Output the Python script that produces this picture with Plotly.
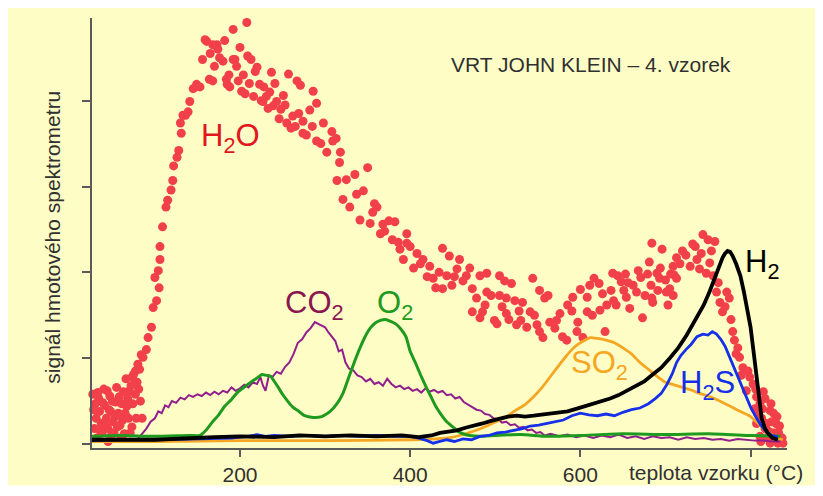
import plotly.graph_objects as go

# ---------------- data (temperature in °C, signal in arbitrary units) ----------------
h2o_temp = [27, 30, 31, 29, 32, 34, 35, 37, 38, 40, 41, 43, 45, 45, 47, 48, 51, 52, 54, 55, 57, 59, 60, 61, 63, 65, 66, 68, 69, 71, 72, 74, 75, 77, 78, 79, 80, 81, 82, 84,
            73, 77, 86, 90, 92, 96, 98, 100, 102, 105, 104, 106, 106, 109, 113, 115, 119, 121, 122, 126, 128, 130, 131, 133, 136, 139, 141, 145, 148, 149, 153, 156, 159, 161,
            168, 173, 174, 168, 164, 180, 184, 185, 188, 192, 192, 194, 198, 200, 202, 206, 208, 209, 213, 218, 220, 223, 228, 227, 231, 233, 237, 239, 243, 246, 251, 257,
            255, 262, 260, 267, 269, 271, 274, 274, 282, 286, 290, 290, 298, 308, 309, 313, 317, 314, 325, 335, 350, 337, 321, 329, 341, 353, 356, 361, 368, 370, 379, 382,
            388, 396, 396, 408, 415, 423, 427, 430, 438, 438, 443, 446, 449, 455, 458, 466, 473, 473, 482, 482, 485, 490, 490, 495, 499, 502, 505, 505, 511, 513, 513, 523,
            519, 525, 530, 532, 537, 541, 544, 549, 552, 552, 558, 556, 562, 564, 570, 572, 576, 579, 584, 585, 591, 596, 597, 603, 608, 608, 611, 616, 622, 623, 629, 631,
            636, 639, 638, 644, 648, 651, 653, 654, 658, 662, 666, 671, 676, 673, 679, 683, 684, 684, 685, 690, 691, 693, 696, 701, 700, 703, 705, 709, 710, 709, 713, 717,
            713, 720, 729, 732, 737, 740, 744, 748, 750, 752, 756, 758, 760, 764, 767, 772, 775, 779, 781, 785, 787, 791, 795, 799, 803, 805, 807, 807, 811, 811, 819, 823,
            826, 831, 834, 834, 808, 813, 817, 820, 823, 825, 828, 832, 814, 817, 824, 827, 830, 833, 837, 821, 812, 838, 806, 815,
            28, 33, 36, 39, 42, 44, 46, 49, 50, 53, 56, 58, 62, 64, 67, 70, 73, 76, 83, 85,
            165, 170, 176, 182, 187, 196, 204, 211, 216, 225, 235, 241, 248, 253, 265, 278, 285, 295, 302, 318,
            345, 358, 365, 375, 386, 392, 400, 404, 412, 420, 434, 452, 462, 470, 478, 488, 508, 516, 528, 546,
            590, 600, 614, 626, 642, 656, 668, 681, 694, 706, 724, 735, 742, 754, 762, 770, 777, 783, 789, 797]
h2o_signal = [0.58, 0.47, 0.30, 0.18, 0.07, 0.53, 0.38, 0.24, 0.13, 0.64, 0.45, 0.30, 0.18, 0.03, 0.56, 0.38, 0.26, 0.13, 0.49, 0.66, 0.36, 0.22, 0.07, 0.47, 0.61, 0.36, 0.76, 0.53, 0.30, 0.13, 0.68, 0.47, 0.81, 0.58, 0.30, 0.72, 0.93, 0.64, 0.87, 1.04,
              0.78, 0.85, 1.01, 1.10, 1.24, 1.36, 1.59, 1.94, 1.67, 1.82, 2.02, 2.15, 2.30, 2.53, 2.76, 2.84, 2.96, 3.07, 3.24, 3.34, 3.42, 3.74, 3.62, 3.83, 3.83, 3.87, 3.99, 4.14, 4.16, 4.19, 4.16, 4.48, 4.71, 4.69,
              4.65, 4.65, 4.60, 4.23, 4.25, 4.46, 4.25, 4.19, 4.16, 4.83, 4.48, 4.48, 4.23, 4.62, 4.11, 4.08, 4.91, 4.52, 4.48, 4.34, 4.39, 4.19, 4.16, 3.99, 4.05, 3.91, 4.33, 3.94, 3.99, 3.79, 4.06, 4.31,
              3.74, 3.82, 3.68, 4.23, 3.85, 4.18, 3.76, 3.62, 3.89, 4.11, 3.97, 3.53, 3.74, 3.64, 3.53, 3.56, 3.28, 3.07, 3.08, 3.14, 3.22, 2.91, 2.85, 2.76, 2.61, 2.57, 2.70, 2.76, 2.56, 2.48, 2.38, 2.59,
              2.27, 2.45, 2.34, 2.22, 2.15, 2.07, 1.93, 1.82, 2.28, 1.81, 1.96, 2.19, 1.85, 2.04, 2.15, 1.96, 1.81, 1.54, 1.96, 1.47, 1.54, 1.99, 1.77, 1.73, 1.44, 1.40, 1.96, 1.73, 1.90, 1.70, 1.52, 1.67,
              1.87, 1.39, 1.44, 1.65, 1.36, 1.54, 1.93, 1.39, 1.79, 1.31, 1.70, 1.24, 1.73, 1.42, 1.35, 1.44, 1.52, 1.25, 1.21, 1.62, 1.71, 1.31, 1.42, 1.24, 1.71, 1.54, 1.85, 1.93, 1.87, 1.56, 1.31, 1.62,
              1.79, 1.67, 1.99, 1.96, 1.89, 1.79, 1.98, 1.71, 1.58, 1.85, 1.77, 1.94, 1.73, 1.47, 1.98, 1.85, 1.70, 2.34, 1.65, 1.99, 1.79, 1.93, 2.27, 1.77, 1.91, 1.62, 1.81, 2.07, 1.97, 1.73, 2.17, 2.10,
              1.93, 2.25, 2.07, 2.33, 2.15, 2.04, 2.44, 1.99, 2.38, 2.11, 1.96, 2.36, 1.77, 1.65, 1.54, 1.77, 1.70, 1.31, 1.21, 1.12, 1.01, 0.89, 0.62, 0.78, 0.70, 0.41, 0.55, 0.24, 0.47, 0.09, 0.24, 0.39,
              0.13, 0.32, 0.21, 0.05, 0.36, 0.30, 0.18, 0.07, 0.01, 0.26, 0.13, 0.01, 0.41, 0.53, 0.47, 0.36, 0.24, 0.13, 0.07, 0.15, 0.03, 0.01, 0.64, 0.61,
              0.40, 0.60, 0.15, 0.48, 0.22, 0.62, 0.40, 0.10, 0.50, 0.32, 0.20, 0.55, 0.28, 0.12, 0.44, 0.62, 0.20, 0.70, 0.50, 0.30,
              4.55, 4.40, 4.50, 4.70, 4.30, 4.40, 4.30, 4.20, 4.05, 4.00, 4.10, 4.20, 3.90, 3.95, 3.70, 3.60, 3.70, 3.50, 3.40, 3.40,
              2.95, 2.80, 2.45, 2.60, 2.35, 2.15, 2.30, 2.05, 2.10, 1.95, 2.00, 1.95, 1.90, 2.05, 1.70, 1.62, 1.60, 1.45, 1.55, 1.50,
              1.55, 1.80, 1.50, 1.75, 1.62, 1.88, 2.02, 2.12, 2.05, 1.98, 2.20, 2.30, 2.22, 2.25, 1.88, 1.60, 1.45, 1.05, 0.80, 0.85]

co2_temp = [26, 40, 55, 70, 80, 85, 90, 95, 100, 104, 108, 112, 116, 120, 125, 130, 135, 140, 145, 150, 155, 160, 165, 170, 175, 180, 185, 190, 195, 200,
            205, 210, 215, 220, 224, 227, 230, 234, 238, 243, 248, 253, 258, 263, 268, 273, 278, 283, 288, 292, 296, 300, 304, 308, 312, 316, 320, 324, 328, 333,
            338, 343, 348, 353, 358, 363, 368, 373, 378, 383, 388, 393, 398, 403, 408, 413, 418, 423, 428, 433, 438, 443, 448, 453, 458, 463, 468, 473, 478, 483,
            488, 493, 498, 503, 508, 513, 518, 523, 528, 533, 538, 543, 548, 553, 558, 565, 575, 585, 595, 605, 615, 625, 635, 645, 655, 665, 675, 685, 695, 705,
            715, 725, 735, 745, 755, 765, 775, 785, 795, 805, 815, 825, 835]
co2_signal = [0.05, 0.05, 0.05, 0.05, 0.06, 0.12, 0.18, 0.26, 0.30, 0.38, 0.36, 0.45, 0.43, 0.50, 0.48, 0.54, 0.52, 0.57, 0.55, 0.58, 0.56, 0.60, 0.57, 0.61, 0.58, 0.62, 0.60, 0.66, 0.62, 0.65,
              0.69, 0.66, 0.72, 0.70, 0.78, 0.68, 0.62, 0.80, 0.78, 0.84, 0.82, 0.90, 0.95, 1.05, 1.18, 1.22, 1.30, 1.35, 1.42, 1.40, 1.38, 1.36, 1.30, 1.25, 1.20, 1.08, 1.10, 0.95, 0.88, 0.86,
              0.80, 0.78, 0.73, 0.76, 0.70, 0.72, 0.68, 0.76, 0.70, 0.66, 0.68, 0.64, 0.66, 0.62, 0.64, 0.60, 0.65, 0.61, 0.63, 0.60, 0.62, 0.57, 0.58, 0.53, 0.55, 0.49, 0.46, 0.44, 0.40, 0.39,
              0.35, 0.34, 0.30, 0.29, 0.25, 0.26, 0.22, 0.23, 0.19, 0.20, 0.16, 0.17, 0.13, 0.14, 0.10, 0.12, 0.09, 0.11, 0.08, 0.10, 0.07, 0.10, 0.08, 0.11, 0.07, 0.09, 0.06, 0.09, 0.07, 0.08,
              0.05, 0.08, 0.06, 0.07, 0.05, 0.06, 0.04, 0.06, 0.05, 0.04, 0.04, 0.03, 0.03]

o2_temp = [26, 60, 100, 140, 153, 160, 167, 175, 182, 190, 198, 206, 214, 220, 226, 231, 236, 241, 245, 250, 256, 262, 268, 276, 286, 296, 306, 314, 321, 329,
           335, 341, 347, 353, 359, 365, 371, 377, 383, 389, 395, 400, 406, 412, 418, 424, 430, 436, 443, 450, 456, 462, 470, 482, 500, 530, 560, 600, 650, 700,
           750, 800, 835]
o2_signal = [0.09, 0.10, 0.09, 0.10, 0.10, 0.16, 0.25, 0.34, 0.44, 0.52, 0.61, 0.67, 0.73, 0.77, 0.81, 0.80, 0.79, 0.72, 0.66, 0.58, 0.50, 0.43, 0.39, 0.33, 0.31, 0.32, 0.38, 0.47, 0.59, 0.81,
             0.97, 1.12, 1.25, 1.35, 1.41, 1.44, 1.45, 1.43, 1.40, 1.34, 1.25, 1.08, 0.95, 0.81, 0.68, 0.56, 0.44, 0.35, 0.26, 0.20, 0.15, 0.12, 0.10, 0.09, 0.10, 0.11, 0.09, 0.10, 0.12, 0.11,
             0.12, 0.10, 0.09]

h2_temp = [26, 100, 170, 200, 240, 270, 300, 330, 360, 390, 410, 425, 435, 445, 455, 465, 475, 485, 495, 505, 515, 525, 535, 545, 555, 565, 575, 585, 595, 605,
           615, 625, 635, 645, 655, 665, 675, 685, 695, 705, 715, 725, 735, 745, 752, 758, 763, 767, 770, 773, 776, 779, 783, 788, 792, 796, 800, 803, 806, 809,
           813, 817, 821, 826, 832]
h2_signal = [0.05, 0.05, 0.08, 0.09, 0.08, 0.10, 0.09, 0.10, 0.09, 0.10, 0.08, 0.10, 0.13, 0.14, 0.16, 0.19, 0.21, 0.24, 0.27, 0.30, 0.32, 0.33, 0.32, 0.33, 0.34, 0.35, 0.37, 0.38, 0.41, 0.44,
             0.46, 0.50, 0.53, 0.57, 0.62, 0.67, 0.73, 0.81, 0.89, 1.00, 1.12, 1.27, 1.44, 1.62, 1.78, 1.94, 2.08, 2.17, 2.22, 2.25, 2.24, 2.19, 2.10, 1.96, 1.78, 1.58, 1.36, 1.12, 0.88, 0.62,
             0.30, 0.18, 0.12, 0.07, 0.05]

h2s_temp = [26, 60, 100, 140, 170, 190, 200, 210, 220, 230, 240, 260, 280, 300, 320, 340, 360, 380, 400, 410, 420, 427, 435, 443, 452, 462, 472, 482, 492, 502,
            512, 522, 532, 541, 551, 561, 570, 580, 590, 600, 610, 620, 630, 640, 650, 660, 670, 680, 688, 695, 702, 708, 713, 718, 724, 730, 737, 744, 750, 755,
            760, 765, 770, 776, 782, 788, 794, 800, 806, 812, 818, 825, 832]
h2s_signal = [0.04, 0.05, 0.05, 0.06, 0.06, 0.07, 0.08, 0.09, 0.11, 0.09, 0.10, 0.09, 0.10, 0.09, 0.10, 0.09, 0.10, 0.09, 0.09, 0.07, 0.04, 0.01, 0.03, 0.05, 0.03, 0.06, 0.05, 0.09, 0.10, 0.13,
              0.14, 0.16, 0.18, 0.21, 0.22, 0.24, 0.26, 0.28, 0.33, 0.36, 0.34, 0.33, 0.35, 0.33, 0.37, 0.40, 0.42, 0.47, 0.53, 0.59, 0.70, 0.82, 0.95, 1.03, 1.10, 1.16, 1.25, 1.28, 1.27, 1.31,
              1.28, 1.22, 1.14, 1.00, 0.86, 0.70, 0.57, 0.43, 0.32, 0.22, 0.15, 0.10, 0.08]

so2_temp = [26, 100, 200, 300, 400, 430, 450, 465, 480, 492, 505, 515, 525, 535, 545, 555, 565, 575, 583, 590, 597, 605, 612, 620, 630, 640, 650, 660, 670, 680,
            690, 700, 710, 720, 730, 740, 750, 760, 770, 780, 790, 800, 810, 818, 825, 832, 838]
so2_signal = [0.03, 0.03, 0.04, 0.04, 0.05, 0.06, 0.08, 0.12, 0.17, 0.22, 0.28, 0.33, 0.40, 0.46, 0.55, 0.66, 0.79, 0.92, 1.02, 1.10, 1.16, 1.21, 1.24, 1.23, 1.21, 1.18, 1.12, 1.05, 0.95, 0.87,
              0.79, 0.72, 0.69, 0.66, 0.63, 0.59, 0.56, 0.52, 0.47, 0.42, 0.37, 0.32, 0.23, 0.16, 0.11, 0.07, 0.05]

x_tick_values = [200, 400, 600, 800]
x_tick_labels = ["200", "400", "600", ""]
y_tick_values = [0, 1, 2, 3, 4]

title_text = "VRT JOHN KLEIN \u2013 4. vzorek"
x_title = "teplota vzorku (\u00b0C)"
y_title = "sign\u00e1l hmotov\u00e9ho spektrometru"

# ---------------- styling ----------------
FONT = "Liberation Sans, Arial, sans-serif"
BG = "#FEFDC6"
AXIS = "#5a5a5a"
C_H2O_DOT = "#F2404A"
C_H2O_TXT = "#E01620"
C_CO2 = "#901E8C"
C_CO2_TXT = "#8A1650"
C_O2 = "#1E9A1E"
C_H2 = "#000000"
C_H2S = "#1530E8"
C_SO2 = "#F5A623"

fig = go.Figure()

fig.add_trace(go.Scatter(x=h2o_temp, y=h2o_signal, mode="markers",
                         marker=dict(size=9, color=C_H2O_DOT, line=dict(width=0)),
                         cliponaxis=False, hoverinfo="skip"))
fig.add_trace(go.Scatter(x=co2_temp, y=co2_signal, mode="lines",
                         line=dict(color=C_CO2, width=2), hoverinfo="skip"))
fig.add_trace(go.Scatter(x=so2_temp, y=so2_signal, mode="lines",
                         line=dict(color=C_SO2, width=2.8, shape="spline", smoothing=0.6), hoverinfo="skip"))
fig.add_trace(go.Scatter(x=o2_temp, y=o2_signal, mode="lines",
                         line=dict(color=C_O2, width=3, shape="spline", smoothing=0.5), hoverinfo="skip"))
fig.add_trace(go.Scatter(x=h2s_temp, y=h2s_signal, mode="lines",
                         line=dict(color=C_H2S, width=2.8), hoverinfo="skip"))
fig.add_trace(go.Scatter(x=h2_temp, y=h2_signal, mode="lines",
                         line=dict(color=C_H2, width=3.8), hoverinfo="skip"))

gas_labels = [
    ("H<sub>2</sub>O", 189, 3.56, C_H2O_TXT),
    ("CO<sub>2</sub>", 287, 1.62, C_CO2_TXT),
    ("O<sub>2</sub>", 382, 1.62, C_O2),
    ("SO<sub>2</sub>", 623, 0.92, C_SO2),
    ("H<sub>2</sub>S", 749, 0.69, C_H2S),
    ("H<sub>2</sub>", 813, 2.10, C_H2),
]
annotations = []
for txt, xx, yy, col in gas_labels:
    annotations.append(dict(text=txt, x=xx, y=yy, xref="x", yref="y", showarrow=False,
                            font=dict(family=FONT, size=31, color=col),
                            xanchor="center", yanchor="middle"))

annotations.append(dict(text=title_text, x=0.718, y=0.892, xref="paper", yref="paper",
                        showarrow=False, font=dict(family=FONT, size=21, color="#303030"),
                        xanchor="center", yanchor="middle"))
annotations.append(dict(text=x_title, x=0.898, y=-0.057, xref="paper", yref="paper",
                        showarrow=False, font=dict(family=FONT, size=21, color="#303030"),
                        xanchor="center", yanchor="middle"))
annotations.append(dict(text=y_title, x=-0.057, y=0.49, xref="paper", yref="paper",
                        showarrow=False, textangle=-90,
                        font=dict(family=FONT, size=21, color="#303030"),
                        xanchor="center", yanchor="middle"))

# the page body adds an 8 px offset, so the figure is 8 px smaller than the window
fig.update_layout(
    width=815, height=488,
    margin=dict(l=84, r=36, t=10, b=41),
    paper_bgcolor="white",
    plot_bgcolor="rgba(0,0,0,0)",
    showlegend=False,
    annotations=annotations,
    shapes=[dict(type="rect", xref="paper", yref="paper",
                 x0=-0.125, x1=1.06, y0=-0.087, y1=1.03,
                 fillcolor=BG, line=dict(width=0), layer="below")],
    xaxis=dict(range=[26.1, 842.8], tickvals=x_tick_values, ticktext=x_tick_labels,
               showgrid=False, zeroline=False, showline=True, linecolor=AXIS, linewidth=2,
               ticks="outside", ticklen=7, tickwidth=1.5, tickcolor=AXIS,
               tickfont=dict(family=FONT, size=21, color="#303030")),
    yaxis=dict(range=[-0.046, 4.963], tickvals=y_tick_values, showticklabels=False,
               showgrid=False, zeroline=False, showline=True, linecolor=AXIS, linewidth=2,
               ticks="outside", ticklen=8, tickwidth=1.5, tickcolor=AXIS),
)

fig.write_html("out.html")
